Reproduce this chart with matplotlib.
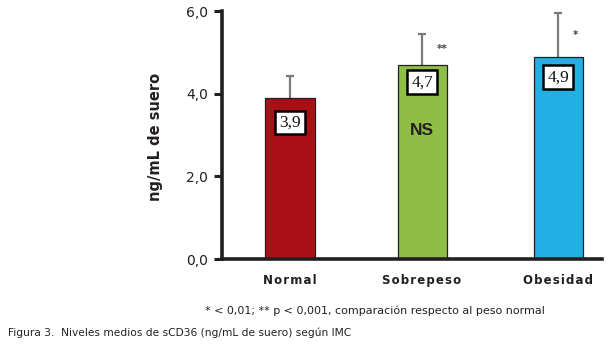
import matplotlib.pyplot as plt

categories = ["Normal", "Sobrepeso", "Obesidad"]
means = [3.9, 4.7, 4.9]
errors = [0.53, 0.75, 1.06]
mean_labels = ["3,9", "4,7", "4,9"]
stars = ["", "**", "*"]
yticks = [0.0, 2.0, 4.0, 6.0]
ytick_labels = ["0,0", "2,0", "4,0", "6,0"]
colors = ["#a81016", "#8fbe45", "#22b0e4"]

dark = "#231f20"

fig = plt.figure(figsize=(6.10, 3.46), dpi=100)
ax = fig.add_axes([0.364, 0.2514, 0.623, 0.7166])

x = [0, 0.985, 2.0]
ax.bar(x, means, width=0.366, color=colors, edgecolor=dark, linewidth=0.9, zorder=2)

# upper error bars only
tops = [m + e for m, e in zip(means, errors)]
ax.vlines(x, means, tops, color="#7a7a7a", linewidth=1.6, zorder=1)
ax.hlines(tops, [xi - 0.028 for xi in x], [xi + 0.028 for xi in x],
          color="#7a7a7a", linewidth=1.6, zorder=1)

# boxed value labels inside the bars
for xi, m, lab, off in zip(x, means, mean_labels, [0.6, 0.42, 0.5]):
    ax.text(xi, m - off, lab, ha="center", va="center", fontsize=12.5,
            family="Liberation Serif", color="#111111", zorder=3,
            bbox=dict(boxstyle="square,pad=0.22", fc="white", ec="black", lw=1.8))

ax.text(x[1], 3.1, "NS", ha="center", va="center", fontsize=12.5,
        family="Liberation Sans", fontweight="bold", color="#222222", zorder=3)

for xi, m, e, s in zip(x, means, errors, stars):
    if s:
        ax.text(xi + 0.11, m + e * 0.5, s, ha="left", va="center",
                fontsize=7.5, fontweight="bold", color="#444444")

ax.set_xlim(-0.507, 2.328)
ax.set_ylim(0, 6)
ax.set_yticks(yticks)
ax.set_yticklabels(ytick_labels, fontsize=10, color=dark, family="DejaVu Sans")
ax.tick_params(axis="y", length=6, width=2.2, color=dark, pad=4)

ax.set_xticks(x)
ax.set_xticklabels(["\u200a".join(c) for c in categories], fontsize=8.5,
                   fontweight="bold", color=dark)
ax.tick_params(axis="x", length=0, pad=11)

for side in ["top", "right"]:
    ax.spines[side].set_visible(False)
for side in ["left", "bottom"]:
    ax.spines[side].set_linewidth(2.6)
    ax.spines[side].set_color(dark)

fig.text(0.255, 0.605, "ng/mL de suero", rotation=90, ha="center", va="center",
         fontsize=10.5, fontweight="bold", color=dark)

fig.text(0.336, 0.101, "* < 0,01; ** p < 0,001, comparación respecto al peso normal",
         fontsize=8, color="#222222", va="center")
fig.text(0.013, 0.037, "Figura 3.  Niveles medios de sCD36 (ng/mL de suero) según IMC",
         fontsize=7.7, color="#222222", va="center")

fig.savefig("out.png", dpi=100)
